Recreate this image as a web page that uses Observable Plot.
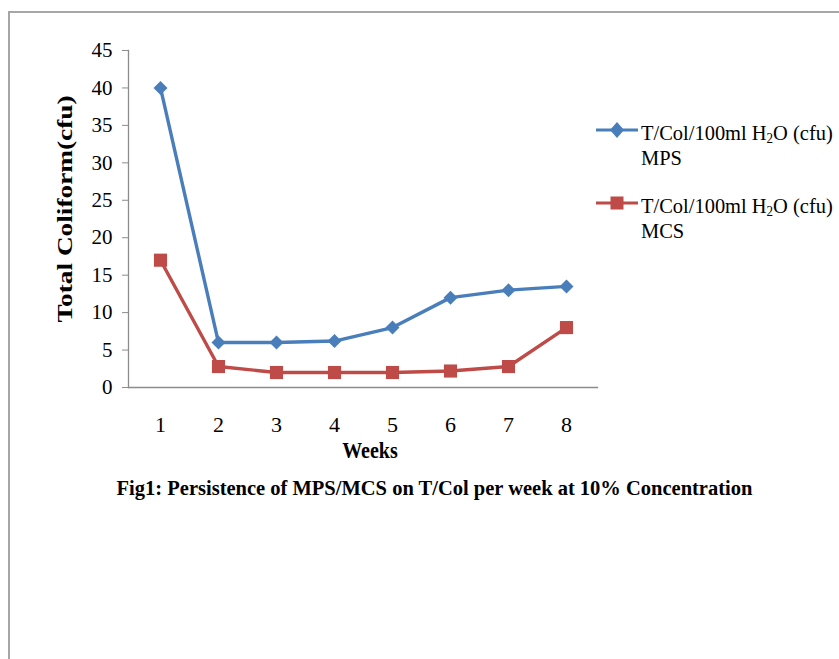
<!DOCTYPE html>
<html>
<head>
<meta charset="utf-8">
<script src="https://cdn.jsdelivr.net/npm/d3@7"></script>
<script src="https://cdn.jsdelivr.net/npm/@observablehq/plot@0.6"></script>
<style>
  html, body { margin: 0; padding: 0; background: #fff; }
  #wrap { position: relative; width: 839px; height: 659px; overflow: hidden; font-family: "Liberation Serif", "Times New Roman", serif; color: #000; }
  #border { position: absolute; left: 8px; top: 11px; width: 840px; height: 660px; border-top: 2px solid #a6a6a6; border-left: 2px solid #a6a6a6; box-sizing: border-box; }
  #chart { position: absolute; left: 0; top: 0; }
  .leg { position: absolute; left: 596px; }
  .leg svg { position: absolute; left: 0; top: 0; }
  .leg .t { position: absolute; left: 45px; font-size: 22px; line-height: 25px; height: 25px; white-space: nowrap; transform: scaleX(0.93); transform-origin: 0 0; }
  sub { font-size: 14px; vertical-align: -3px; line-height: 0; }
  #ylabel { position: absolute; left: 65px; top: 209px; font-weight: bold; font-size: 21px; white-space: nowrap; transform: translate(-50%, -50%) rotate(-90deg) scaleX(1.3); }
  #xlabel { position: absolute; left: 370px; top: 450px; font-weight: bold; font-size: 20px; white-space: nowrap; transform: translate(-50%, -50%) scaleY(1.2); }
  #caption { position: absolute; left: 15px; width: 839px; top: 477px; text-align: center; font-weight: bold; font-size: 20.5px; white-space: nowrap; }
</style>
</head>
<body>
<div id="wrap">
  <div id="border"></div>
  <div id="chart"></div>
  <div id="legend"></div>
  <div id="ylabel"></div>
  <div id="xlabel"></div>
  <div id="caption"></div>
</div>
<script>
const weeks = [1, 2, 3, 4, 5, 6, 7, 8];
const mps = [40, 6, 6, 6.2, 8, 12, 13, 13.5];
const mcs = [17, 2.8, 2, 2, 2, 2.2, 2.8, 8];
const seriesNames = ["MPS", "MCS"];
const seriesColors = ["#4a7ebb", "#be4b48"];
const yTicks = [0, 5, 10, 15, 20, 25, 30, 35, 40, 45];
const yLabel = "Total Coliform(cfu)";
const xLabel = "Weeks";
const captionText = "Fig1: Persistence of MPS/MCS on T/Col per week at 10% Concentration";

const rows = [];
weeks.forEach((w, i) => {
  rows.push({week: w, value: mps[i], series: "MPS"});
  rows.push({week: w, value: mcs[i], series: "MCS"});
});

const axisColor = "#8c8c8c";
const chart = Plot.plot({
  width: 839,
  height: 659,
  marginLeft: 128,
  marginRight: 242,
  marginTop: 50,
  marginBottom: 272,
  style: {fontFamily: "Liberation Serif, Times New Roman, serif", fontSize: "21px", color: "#000", background: "transparent"},
  x: {type: "point", domain: weeks, padding: 0.5},
  y: {domain: [0, 45]},
  color: {domain: seriesNames, range: seriesColors},
  marks: [
    Plot.frame({anchor: "left", stroke: axisColor, strokeWidth: 1.3}),
    Plot.frame({anchor: "bottom", stroke: axisColor, strokeWidth: 1.3}),
    Plot.axisY(yTicks, {tickSize: 6, tickPadding: 10, stroke: axisColor, fill: "#000", label: null, fontSize: 21}),
    Plot.axisX(weeks, {tickSize: 0, tickPadding: 29, fill: "#000", label: null, fontSize: 22}),
    Plot.line(rows, {x: "week", y: "value", stroke: "series", z: "series", strokeWidth: 3.4}),
    Plot.dot(rows.filter(d => d.series === "MPS"), {x: "week", y: "value", fill: "series", symbol: "diamond2", r: 6.3, stroke: "none"}),
    Plot.dot(rows.filter(d => d.series === "MCS"), {x: "week", y: "value", fill: "series", symbol: "square", r: 7.4, stroke: "none"})
  ]
});
document.getElementById("chart").appendChild(chart);

// legend
const leg = document.getElementById("legend");
const legTops = [118, 191];
seriesNames.forEach((name, i) => {
  const div = document.createElement("div");
  div.className = "leg";
  div.style.top = legTops[i] + "px";
  const cy = 12;
  const marker = i === 0
    ? `<path d="M21,${cy - 8} L28,${cy} L21,${cy + 8} L14,${cy} Z" fill="${seriesColors[i]}"/>`
    : `<rect x="14.5" y="${cy - 6.5}" width="13" height="13" fill="${seriesColors[i]}"/>`;
  div.innerHTML = `<svg width="44" height="24"><line x1="0" y1="${cy}" x2="42" y2="${cy}" stroke="${seriesColors[i]}" stroke-width="3"/>${marker}</svg>` +
    `<div class="t" style="top:2px">T/Col/100ml H<sub>2</sub>O (cfu)</div>` +
    `<div class="t" style="top:27px">${name}</div>`;
  leg.appendChild(div);
});
document.getElementById("ylabel").textContent = yLabel;
document.getElementById("xlabel").textContent = xLabel;
document.getElementById("caption").textContent = captionText;
</script>
</body>
</html>
